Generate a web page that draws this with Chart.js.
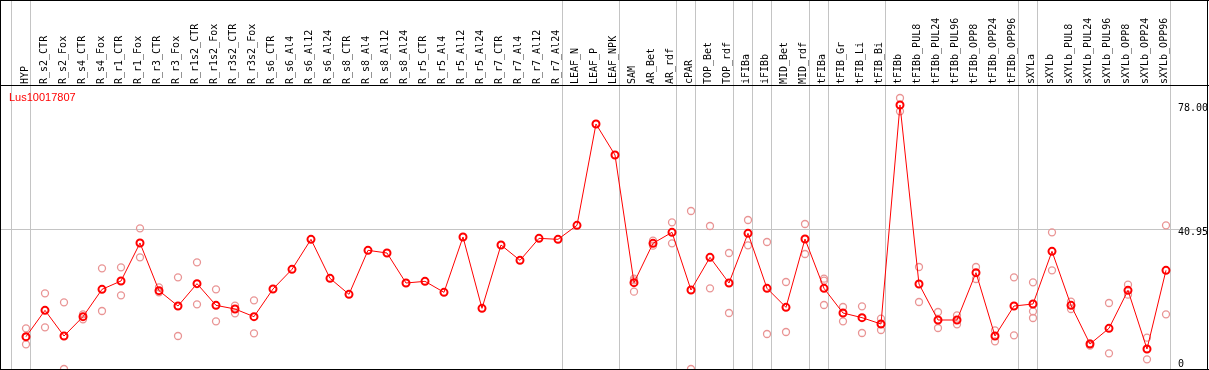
<!DOCTYPE html>
<html>
<head>
<meta charset="utf-8">
<title>Lus10017807</title>
<script src="https://cdn.jsdelivr.net/npm/chart.js@4.4.1/dist/chart.umd.min.js"></script>
<style>
    html, body { margin: 0; padding: 0; background: #ffffff; }
    #geneChart { display: block; }
</style>
</head>
<body>
<canvas id="geneChart" width="1209" height="370"></canvas>
<script>
// ===== DATA =====
const geneName = 'Lus10017807';

const categories = [
    'HYP', 'R_s2_CTR', 'R_s2_Fox', 'R_s4_CTR', 'R_s4_Fox', 'R_r1_CTR', 'R_r1_Fox',
    'R_r3_CTR', 'R_r3_Fox', 'R_r1s2_CTR', 'R_r1s2_Fox', 'R_r3s2_CTR', 'R_r3s2_Fox',
    'R_s6_CTR', 'R_s6_Al4', 'R_s6_Al12', 'R_s6_Al24', 'R_s8_CTR', 'R_s8_Al4', 'R_s8_Al12',
    'R_s8_Al24', 'R_r5_CTR', 'R_r5_Al4', 'R_r5_Al12', 'R_r5_Al24', 'R_r7_CTR', 'R_r7_Al4',
    'R_r7_Al12', 'R_r7_Al24', 'LEAF_N', 'LEAF_P', 'LEAF_NPK', 'SAM', 'AR_Bet', 'AR_rdf',
    'cPAR', 'TOP_Bet', 'TOP_rdf', 'iFIBa', 'iFIBb', 'MID_Bet', 'MID_rdf', 'tFIBa',
    'tFIB_Gr', 'tFIB_Li', 'tFIB_Bi', 'tFIBb', 'tFIBb_PUL8', 'tFIBb_PUL24', 'tFIBb_PUL96',
    'tFIBb_OPP8', 'tFIBb_OPP24', 'tFIBb_OPP96', 'sXYLa', 'sXYLb', 'sXYLb_PUL8',
    'sXYLb_PUL24', 'sXYLb_PUL96', 'sXYLb_OPP8', 'sXYLb_OPP24', 'sXYLb_OPP96'
];

// mean expression per sample
const meanValues = [
    8.5, 16.4, 8.7, 14.5, 22.7, 25.2, 36.6, 22.3, 17.7, 24.4, 17.9, 16.8, 14.5,
    22.8, 28.7, 37.7, 26.0, 21.2, 34.4, 33.6, 24.6, 25.1, 21.8, 38.4, 17.0, 36.0, 31.4,
    38.0, 37.7, 41.9, 72.3, 63.0, 24.7, 36.5, 39.8, 22.5, 32.3, 24.6, 39.5, 23.0, 17.3,
    37.8, 23.0, 15.6, 14.2, 12.3, 78.0, 24.3, 13.5, 13.5, 27.7, 8.7, 17.7, 18.3, 34.1,
    17.9, 6.3, 11.0, 22.4, 4.8, 28.4
];

// individual replicates (empty = single sample)
const replicateValues = [
    [11.0, 8.3, 6.2], [21.5, 11.3], [18.8, -1.2], [15.2, 13.7], [29.0, 16.2], [29.3, 20.9],
    [41.0, 32.3], [23.3, 21.8], [26.3, 8.7], [30.8, 18.2], [22.7, 13.1], [17.8, 15.5],
    [19.4, 9.5],
    [], [], [], [], [], [], [], [], [], [], [], [], [], [], [], [], [], [], [],
    [25.9, 25.4, 22.0], [37.3, 35.8], [42.8, 36.5], [46.2, -1.2], [41.7, 23.0], [33.6, 15.6],
    [43.5, 35.9], [36.9, 9.3], [24.9, 9.9], [42.3, 33.3], [25.9, 25.3, 18.0], [17.4, 13.1],
    [17.6, 9.6], [13.9, 10.5], [80.1, 76.1], [29.4, 18.9], [15.9, 11.1], [14.9, 12.2],
    [29.4, 25.8], [10.4, 7.1], [26.3, 8.9], [24.8, 16.1, 14.1], [39.8, 28.4], [19.0, 16.8],
    [6.5, 5.8], [18.6, 3.5], [24.1, 21.1], [8.2, 1.7], [41.9, 15.2]
];

// right hand axis
const tickValues = [0, 40.95, 78.00];
const tickLabels = ['0', '40.95', '78.00'];
const gridValues = [40.95];

// a separator line is drawn after each of these sample indexes
const groupBreaks = [-1, 0, 28, 31, 34, 35, 37, 38, 39, 41, 42, 45, 52, 53, 60];

// ===== STYLE =====
const RED = '#ff0000';
const FAINT_RED = '#e99494';
const GRID = '#c4c4c4';
const HEADER_BOTTOM = 85;
const LABEL_FONT = '10px "DejaVu Sans Mono", monospace';

document.addEventListener('DOMContentLoaded', function() {
    initializeChart();
});

// ===== PLUGIN: header, borders, group lines, labels =====
const frameDecor = {
    id: 'frameDecor',
    beforeDatasetsDraw(chart) {
        const ctx = chart.ctx;
        const xs = chart.scales.x;
        const ys = chart.scales.y;
        const w = chart.width;
        const h = chart.height;

        ctx.save();
        ctx.fillStyle = GRID;
        // vertical separators run through the header too
        groupBreaks.forEach(function(i) {
            const px = Math.round(xs.getPixelForValue(i + 0.22));
            ctx.fillRect(px, 0, 1, h);
        });
        // horizontal grid
        gridValues.forEach(function(v) {
            const py = Math.round(ys.getPixelForValue(v));
            ctx.fillRect(1, py, w - 2, 1);
        });
        ctx.restore();
    },
    afterDatasetsDraw(chart) {
        const ctx = chart.ctx;
        const xs = chart.scales.x;
        const ys = chart.scales.y;
        const w = chart.width;
        const h = chart.height;

        ctx.save();
        // frame
        ctx.fillStyle = '#000000';
        ctx.fillRect(0, 0, w, 1);
        ctx.fillRect(0, HEADER_BOTTOM, w, 1);
        ctx.fillRect(0, h - 1, w, 1);
        ctx.fillRect(0, 0, 1, h);
        ctx.fillRect(w - 2, 0, 1, h);

        // sample names, rotated
        ctx.font = LABEL_FONT;
        ctx.fillStyle = '#000000';
        ctx.textAlign = 'left';
        ctx.textBaseline = 'alphabetic';
        categories.forEach(function(name, i) {
            const px = xs.getPixelForValue(i);
            ctx.save();
            ctx.translate(px + 1.5, HEADER_BOTTOM - 1);
            ctx.rotate(-Math.PI / 2);
            ctx.fillText(name, 0, 0);
            ctx.restore();
        });

        // value labels on the right
        ctx.textBaseline = 'top';
        tickValues.forEach(function(v, k) {
            const py = Math.min(ys.getPixelForValue(v) - 1.5, h - 11);
            ctx.fillText(tickLabels[k], w - 31, py);
        });

        // gene title
        ctx.font = '11px "Liberation Sans", Arial, sans-serif';
        ctx.fillStyle = RED;
        ctx.textBaseline = 'alphabetic';
        ctx.fillText(geneName, 9, 101);
        ctx.restore();
    }
};

// ===== CHART INITIALIZATION =====
function initializeChart() {
    const ctx = document.getElementById('geneChart');

    const meanPoints = meanValues.map(function(v, i) {
        return { x: i, y: v };
    });

    const replicatePoints = [];
    replicateValues.forEach(function(list, i) {
        list.forEach(function(v) {
            replicatePoints.push({ x: i, y: v });
        });
    });

    new Chart(ctx, {
        type: 'line',
        data: {
            datasets: [{
                label: 'mean',
                data: meanPoints,
                borderColor: RED,
                borderWidth: 1,
                pointRadius: 3.5,
                pointBorderWidth: 2,
                pointBorderColor: RED,
                pointBackgroundColor: 'rgba(0, 0, 0, 0)',
                tension: 0,
                clip: false
            }, {
                label: 'replicates',
                data: replicatePoints,
                showLine: false,
                pointRadius: 3.5,
                pointBorderWidth: 1.3,
                pointBorderColor: FAINT_RED,
                pointBackgroundColor: 'rgba(0, 0, 0, 0)',
                clip: 1
            }]
        },
        options: {
            responsive: false,
            animation: false,
            events: [],
            layout: {
                autoPadding: false,
                padding: { left: 1, right: 2, top: 86, bottom: 1 }
            },
            plugins: {
                legend: { display: false },
                tooltip: { enabled: false }
            },
            scales: {
                x: {
                    type: 'linear',
                    display: false,
                    min: -1.3158,
                    max: 62.158
                },
                y: {
                    type: 'linear',
                    display: false,
                    min: -1.2,
                    max: 83.7
                }
            }
        },
        plugins: [frameDecor]
    });
}
</script>
</body>
</html>
